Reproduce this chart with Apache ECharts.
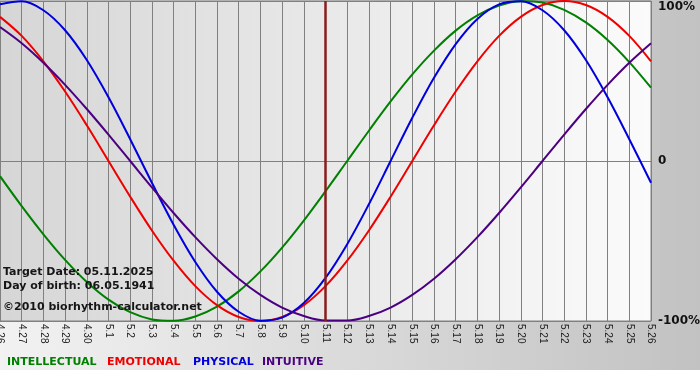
<!DOCTYPE html>
<html>
<head>
<meta charset="utf-8">
<script src="https://cdn.jsdelivr.net/npm/echarts@6/dist/echarts.min.js"></script>
<style>html,body{margin:0;padding:0;background:#fff}#c{width:700px;height:380px}</style>
</head>
<body>
<div id="c"></div>
<script>
const categories = ['4.26','4.27','4.28','4.29','4.30','5.1','5.2','5.3','5.4','5.5','5.6','5.7','5.8','5.9','5.10','5.11','5.12','5.13','5.14','5.15','5.16','5.17','5.18','5.19','5.20','5.21','5.22','5.23','5.24','5.25','5.26'];
const intellectual = [-9.5,-28.2,-45.8,-61.8,-75.6,-86.6,-94.5,-99.0,-99.9,-97.2,-91.0,-81.5,-69.0,-54.1,-37.2,-18.9,0,18.9,37.2,54.1,69.0,81.5,91.0,97.2,99.9,99.0,94.5,86.6,75.6,61.8,45.8];
const emotional = [90.1,78.2,62.3,43.4,22.3,0,-22.3,-43.4,-62.3,-78.2,-90.1,-97.5,-100,-97.5,-90.1,-78.2,-62.3,-43.4,-22.3,0,22.3,43.4,62.3,78.2,90.1,97.5,100,97.5,90.1,78.2,62.3];
const physical = [97.9,99.8,94.2,81.7,63.1,39.8,13.6,-13.6,-39.8,-63.1,-81.7,-94.2,-99.8,-97.9,-88.8,-73.1,-52.0,-27.0,0,27.0,52.0,73.1,88.8,97.9,99.8,94.2,81.7,63.1,39.8,13.6,-13.6];
const intuitive = [83.7,73.6,61.4,47.6,32.5,16.5,0,-16.5,-32.5,-47.6,-61.4,-73.6,-83.7,-91.6,-96.9,-99.7,-99.7,-96.9,-91.6,-83.7,-73.6,-61.4,-47.6,-32.5,-16.5,0,16.5,32.5,47.6,61.4,73.6];
const yTicks = {'100':'100%','0':'0','-100':'-100%'};
const targetDay = '5.11';
const infoLines = ['Target Date: 05.11.2025','Day of birth: 06.05.1941','\u00A92010 biorhythm-calculator.net'];
const legendNames = ['INTELLECTUAL','EMOTIONAL','PHYSICAL','INTUITIVE'];

const colors = ['#008000','#ee0000','#0000dd','#4b0082'];
const seriesData = [intellectual, emotional, physical, intuitive];
const chart = echarts.init(document.getElementById('c'), null, {renderer:'canvas'});
const boldFont = 'bold 11px "DejaVu Sans"';
const legendX = [7, 107, 193, 262];
const infoY = [272, 286.5, 307];

const series = seriesData.map((d, k) => ({
  name: legendNames[k], type: 'line', data: d, smooth: 0.35, showSymbol: false,
  lineStyle: {color: colors[k], width: 2}, itemStyle: {color: colors[k]},
  emphasis: {disabled: true}, z: 3 + k
}));
series[0].markLine = {
  silent: true, symbol: ['none','none'], label: {show: false},
  lineStyle: {color: '#8a1c1c', width: 2.5, type: 'solid'},
  data: [{xAxis: targetDay}], z: 10
};

const graphic = [
  {type:'rect', z:-10, shape:{x:0,y:0,width:700,height:370},
   style:{fill:{type:'linear',x:0,y:0,x2:1,y2:0,colorStops:[{offset:0,color:'#f2f2f2'},{offset:1,color:'#c2c2c2'}]}}}
];
legendNames.forEach((n, k) => graphic.push({
  type:'text', x: legendX[k], y: 362, z: 20,
  style:{text:n, font: boldFont, fill: colors[k], verticalAlign:'middle'}
}));
infoLines.forEach((t, k) => graphic.push({
  type:'text', x: 3, y: infoY[k], z: 20,
  style:{text:t, font: boldFont, fill:'#151515', verticalAlign:'middle'}
}));

chart.setOption({
  animation: false,
  backgroundColor: '#ffffff',
  grid: {left: 0, right: 49, top: 1, bottom: 59, show: true, borderColor: '#808080', borderWidth: 1,
    containLabel: false, outerBoundsMode: 'none',
    backgroundColor: {type:'linear',x:0,y:0,x2:1,y2:0,colorStops:[{offset:0,color:'#d6d6d6'},{offset:1,color:'#fbfbfb'}]}},
  xAxis: {
    type: 'category', data: categories, boundaryGap: false,
    axisLine: {show: true, lineStyle: {color: '#808080'}},
    axisTick: {show: false},
    splitLine: {show: true, lineStyle: {color: '#808080', width: 1}},
    axisLabel: {rotate: -90, interval: 0, margin: 3, color: '#222', fontFamily: '"Liberation Sans"', fontSize: 10}
  },
  yAxis: {
    type: 'value', position: 'right', min: -100, max: 100, interval: 100,
    axisLine: {show: false}, axisTick: {show: false},
    splitLine: {show: true, lineStyle: {color: '#808080', width: 1}},
    axisLabel: {margin: 7, color: '#111', fontFamily: '"DejaVu Sans"', fontWeight: 'bold', fontSize: 12,
      verticalAlignMaxLabel: 'top',
      formatter: v => yTicks[String(v)]}
  },
  graphic: graphic,
  series: series
});
</script>
</body>
</html>
